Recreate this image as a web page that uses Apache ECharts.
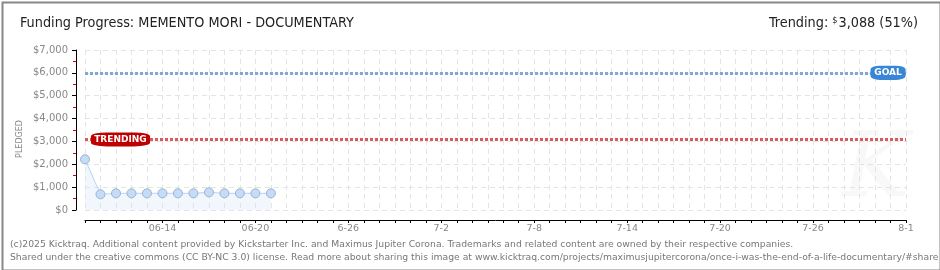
<!DOCTYPE html>
<html><head><meta charset="utf-8">
<script src="https://cdn.jsdelivr.net/npm/echarts@6/dist/echarts.min.js"></script>
<style>html,body{margin:0;padding:0;background:#fff}#c{width:940px;height:270px}</style>
</head><body><div id="c"></div>
<script>
const dates = ['06-09','06-10','06-11','06-12','06-13','06-14','06-15','06-16','06-17','06-18','06-19','06-20','06-21'];
const pledged = [2218, 687, 730, 730, 730, 730, 730, 730, 774, 730, 730, 730, 730];
const tickLabels = ['06-14','06-20','6-26','7-2','7-8','7-14','7-20','7-26','8-1'];
const labelStartDay = 5, labelEvery = 6, totalDays = 53;
const goal = 6000, trending = 3088;
const yTicks = ['$0','$1,000','$2,000','$3,000','$4,000','$5,000','$6,000','$7,000'];

const chart = echarts.init(document.getElementById('c'), null, {renderer:'canvas'});
const seriesData = pledged.map((v,i)=>[i,v]);
const labelFont = 'DejaVu Sans';
const titleFont = 'DejaVu Sans Condensed';
chart.setOption({
  animation:false,
  backgroundColor:'#fff',
  title:[
    {text:'Funding Progress: MEMENTO MORI - DOCUMENTARY', left:15, top:11,
     textStyle:{fontFamily:titleFont, fontSize:14.3, fontWeight:'normal', color:'#222'}},
    {text:'Trending: {s|$}3,088 (51%)', right:17, top:11,
     textStyle:{fontFamily:titleFont, fontSize:14.3, fontWeight:'normal', color:'#222',
       rich:{s:{fontSize:9, verticalAlign:'top', color:'#222', fontFamily:titleFont, padding:[0,1,6,0]}}}},
    {text:'(c)2025 Kicktraq. Additional content provided by Kickstarter Inc. and Maximus Jupiter Corona. Trademarks and related content are owned by their respective companies.\nShared under the creative commons (CC BY-NC 3.0) license. Read more about sharing this image at www.kicktraq.com/projects/maximusjupitercorona/once-i-was-the-end-of-a-life-documentary/#share',
     left:5, top:233,
     textStyle:{fontFamily:'DejaVu Sans', fontSize:9.25, fontWeight:'normal', color:'#777', lineHeight:13}}
  ],
  graphic:[
    {type:'rect', left:0, top:0, shape:{width:938, height:268}, style:{fill:'none', stroke:'#888', lineWidth:2}, z:100},
    {type:'text', left:16, top:120, rotation:Math.PI/2, style:{text:'PLEDGED', fill:'#888', font:'8px DejaVu Sans', letterSpacing:1}},
    {type:'text', left:842, top:128, style:{text:'K', fill:'#f8f8f8', font:'italic 90px DejaVu Serif'}, z:0}
  ],
  grid:{left:85, right:34, top:50, bottom:60},
  xAxis:{
    type:'value', min:0, max:totalDays, interval:1, offset:10,
    axisLine:{show:true, onZero:false, lineStyle:{color:'#000', width:1}},
    axisTick:{show:true, length:3, lineStyle:{color:'#000'}},
    axisLabel:{color:'#888', fontFamily:labelFont, fontSize:9.5, margin:4,
      formatter:function(v){ const d=v-labelStartDay; return (d>=0 && d%labelEvery===0)? (tickLabels[d/labelEvery]||'') : ''; }},
    splitLine:{show:true, lineStyle:{color:'#e4e4e4', type:[5,4]}}
  },
  yAxis:{
    type:'value', min:0, max:7000, interval:1000, offset:9,
    axisLine:{show:true, onZero:false, lineStyle:{color:'#000', width:1}},
    axisTick:{show:true, length:4, lineStyle:{color:'#000'}},
    minorTick:{show:true, splitNumber:2, length:3, lineStyle:{color:'#e00000'}},
    axisLabel:{color:'#888', fontFamily:labelFont, fontSize:10, margin:8,
      formatter:function(v){ return yTicks[Math.round(v/1000)]; }},
    splitLine:{show:true, lineStyle:{color:'#e4e4e4', type:[5,4]}}
  },
  series:[{
    type:'line', data:seriesData, symbol:'circle', symbolSize:9,
    lineStyle:{color:'#b7d4f2', width:1},
    itemStyle:{color:'#c3dcf7', borderColor:'#9fb3cc', borderWidth:1},
    areaStyle:{color:'rgba(214,231,250,0.5)'},
    markLine:{silent:true, symbol:'none', label:{show:false},
      data:[
        {yAxis:goal, lineStyle:{color:'#7ea7da', width:3, type:[3,2]}},
        {yAxis:trending, lineStyle:{color:'#de5a5a', width:3, type:[3,2]}}
      ]},
    markPoint:{silent:true, data:[
      {coord:[2.29, trending], symbol:'roundRect', symbolSize:[55,13], itemStyle:{color:'#bf0000', borderColor:'#bf0000'},
       label:{show:true, formatter:'TRENDING', color:'#fff', fontFamily:'DejaVu Sans', fontWeight:'bold', fontSize:9}},
      {coord:[51.84, goal], symbol:'roundRect', symbolSize:[32,13], itemStyle:{color:'#3a86d6', borderColor:'#3a86d6'},
       label:{show:true, formatter:'GOAL', color:'#fff', fontFamily:'DejaVu Sans', fontWeight:'bold', fontSize:9}}
    ]}
  }]
});
</script></body></html>
